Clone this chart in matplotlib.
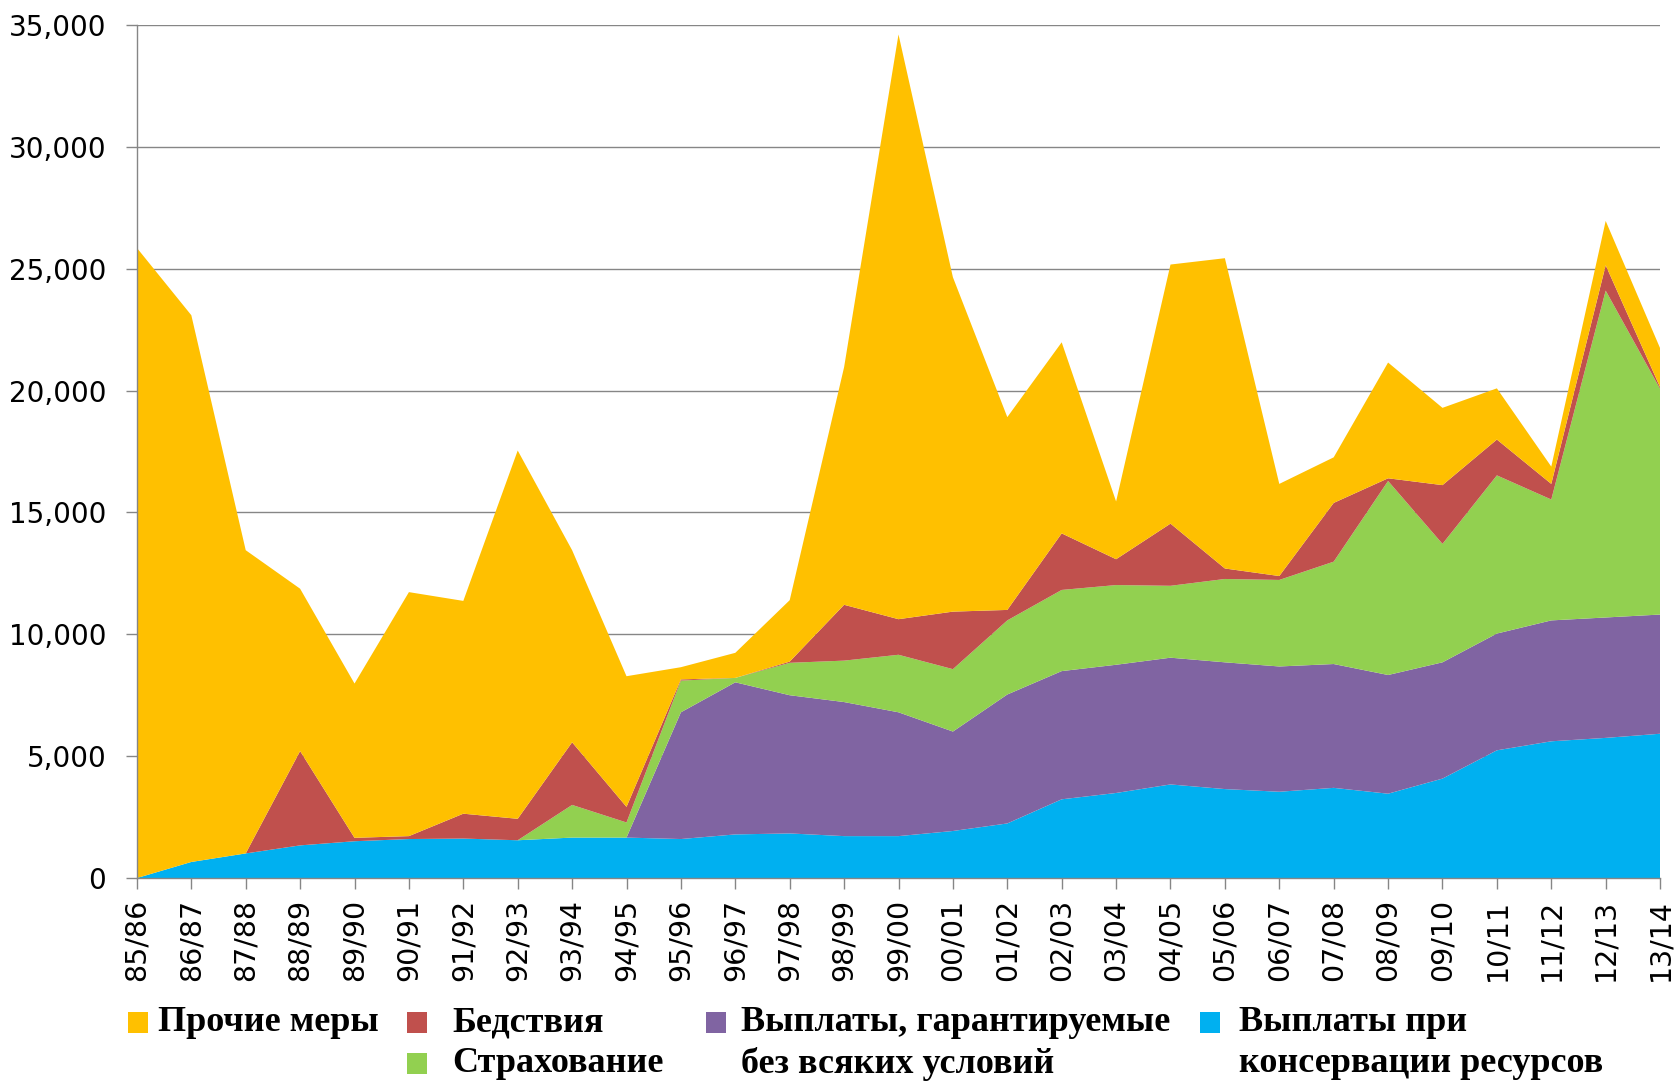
import matplotlib
matplotlib.use("Agg")
import matplotlib.pyplot as plt
from matplotlib.patches import Rectangle
from matplotlib.ticker import FuncFormatter

years = [
    "85/86", "86/87", "87/88", "88/89", "89/90", "90/91", "91/92", "92/93",
    "93/94", "94/95", "95/96", "96/97", "97/98", "98/99", "99/00", "00/01",
    "01/02", "02/03", "03/04", "04/05", "05/06", "06/07", "07/08", "08/09",
    "09/10", "10/11", "11/12", "12/13", "13/14",
]

# values in thousands (bottom layer first)
conservation = [
    0.00, 0.66, 1.01, 1.34, 1.51, 1.60, 1.62, 1.55, 1.66, 1.66, 1.60, 1.79,
    1.83, 1.72, 1.72, 1.93, 2.24, 3.23, 3.49, 3.84, 3.65, 3.54, 3.70, 3.46,
    4.08, 5.24, 5.61, 5.75, 5.92,
]
direct = [
    0, 0, 0, 0, 0, 0, 0, 0, 0, 0, 5.20, 6.24, 5.67, 5.50, 5.08, 4.08, 5.29,
    5.26, 5.26, 5.20, 5.20, 5.14, 5.08, 4.87, 4.77, 4.79, 4.96, 4.94, 4.89,
]
insurance = [
    0, 0, 0, 0, 0, 0, 0, 0, 1.34, 0.62, 1.30, 0.18, 1.33, 1.70, 2.36, 2.56,
    3.04, 3.33, 3.27, 2.95, 3.42, 3.55, 4.20, 7.96, 4.86, 6.49, 4.96, 13.41,
    9.26,
]
disaster = [
    0, 0, 0, 3.87, 0.14, 0.12, 1.02, 0.88, 2.57, 0.64, 0.05, 0.00, 0.05,
    2.29, 1.46, 2.36, 0.43, 2.32, 1.06, 2.55, 0.43, 0.16, 2.41, 0.11, 2.41,
    1.47, 0.64, 1.04, 0.07,
]
other = [
    25.85, 22.43, 12.44, 6.66, 6.33, 10.01, 8.73, 15.11, 7.88, 5.36, 0.50,
    1.03, 2.52, 9.75, 23.99, 13.72, 7.91, 7.84, 2.37, 10.63, 12.73, 3.78,
    1.87, 4.75, 3.17, 2.10, 0.71, 1.82, 1.60,
]

labels = [
    "Выплаты при консервации ресурсов",
    "Выплаты, гарантируемые без всяких условий",
    "Страхование",
    "Бедствия",
    "Прочие меры",
]
colors = ["#00B0F0", "#8064A2", "#92D050", "#C0504D", "#FFC000"]


def main() -> None:
    plt.rcParams["font.family"] = ["DejaVu Sans"]
    fig = plt.figure(figsize=(16.76, 10.84), dpi=100)
    ax = fig.add_axes([0.0817, 0.190, 0.9088, 0.787])

    x = list(range(len(years)))
    series = [conservation, direct, insurance, disaster, other]
    series = [[v * 1000 for v in s] for s in series]
    ax.stackplot(x, *series, colors=colors, labels=labels, linewidth=0)

    ax.set_xlim(0, len(years) - 1)
    ax.set_ylim(0, 35000)
    ax.set_yticks(range(0, 35001, 5000))
    ax.yaxis.set_major_formatter(FuncFormatter(lambda v, _: f"{int(v):,}"))
    ax.set_xticks(x)
    ax.set_xticklabels(years, rotation=90, fontsize=20.5)
    ax.tick_params(axis="y", labelsize=20, length=8, width=1, color="#868686", pad=14)
    ax.tick_params(axis="x", length=8, width=1, color="#868686", pad=7)

    ax.set_axisbelow(True)
    ax.grid(axis="y", color="#868686", linewidth=1.0)
    for side in ("top", "right"):
        ax.spines[side].set_visible(False)
    for side in ("left", "bottom"):
        ax.spines[side].set_color("#868686")
        ax.spines[side].set_linewidth(1.0)

    # legend laid out by hand, like the original
    lfont = dict(family="Liberation Serif", fontweight="bold", fontsize=26, va="center")
    sw, sh = 20 / 1676, 21 / 1084
    row1, row2 = 0.0563, 0.0185
    entries = [
        (0.0764, 0.0945, row1, colors[4], ["Прочие меры"]),
        (0.2428, 0.2697, row1, colors[3], ["Бедствия"]),
        (0.2428, 0.2697, row2, colors[2], ["Страхование"]),
        (0.4212, 0.4420, row1, colors[1], ["Выплаты, гарантируемые", "без всяких условий"]),
        (0.7160, 0.7390, row1, colors[0], ["Выплаты при", "консервации ресурсов"]),
    ]
    for sx, tx, ty, c, lines in entries:
        fig.patches.append(
            Rectangle((sx, ty - sh / 2), sw, sh, transform=fig.transFigure,
                      facecolor=c, edgecolor="none")
        )
        for i, line in enumerate(lines):
            fig.text(tx, ty - i * (row1 - row2), line, **lfont)

    fig.savefig("out.png", dpi=100)


if __name__ == "__main__":
    main()
